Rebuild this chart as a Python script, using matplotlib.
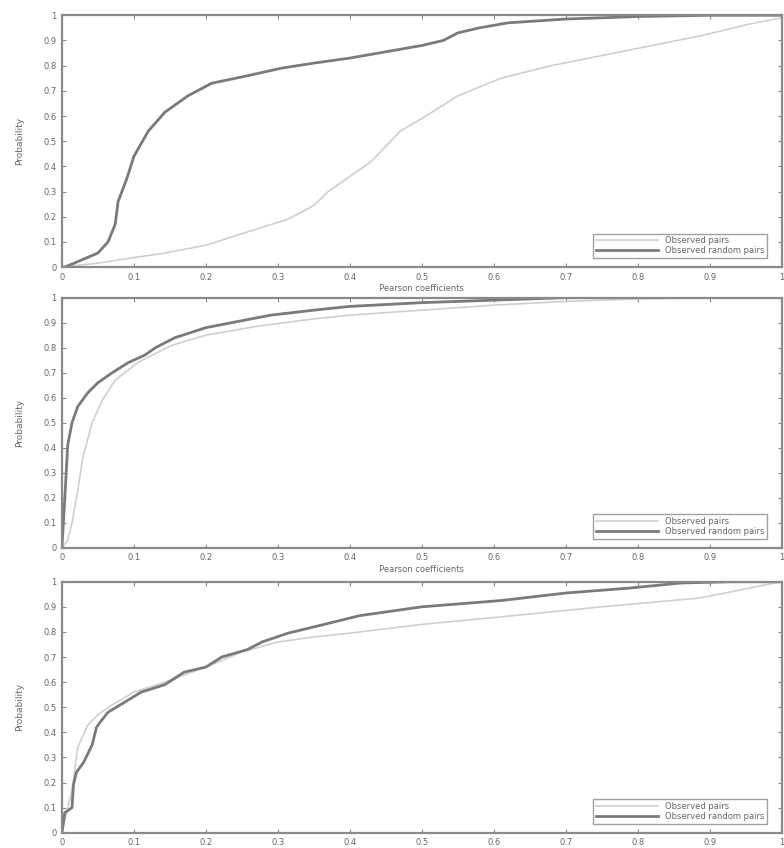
import matplotlib
matplotlib.use("Agg")
import matplotlib.pyplot as plt

# ── values (x, F(x)) ────────────────────────────────────────────────────────
top_dark_x = [0, 0.004, 0.05, 0.064, 0.074, 0.078, 0.09, 0.10, 0.12, 0.143, 0.175, 0.208,
              0.258, 0.305, 0.35, 0.40, 0.45, 0.50, 0.53, 0.55, 0.58, 0.62, 0.70, 0.80, 0.90, 1.0]
top_dark_y = [0, 0, 0.056, 0.10, 0.17, 0.26, 0.35, 0.44, 0.54, 0.615, 0.68, 0.73,
              0.76, 0.79, 0.81, 0.83, 0.855, 0.88, 0.90, 0.93, 0.95, 0.97, 0.985, 0.995, 1.0, 1.0]
top_light_x = [0, 0.05, 0.143, 0.20, 0.258, 0.314, 0.35, 0.37, 0.43, 0.47, 0.50, 0.55,
               0.61, 0.68, 0.75, 0.82, 0.89, 0.955, 1.0]
top_light_y = [0, 0.016, 0.056, 0.087, 0.14, 0.19, 0.245, 0.30, 0.42, 0.54, 0.59, 0.68,
               0.75, 0.80, 0.84, 0.88, 0.92, 0.965, 0.99]

mid_dark_x = [0, 0.004, 0.008, 0.014, 0.022, 0.036, 0.05, 0.07, 0.092, 0.115, 0.13, 0.157,
              0.20, 0.245, 0.29, 0.35, 0.40, 0.50, 0.60, 0.70, 1.0]
mid_dark_y = [0, 0.2, 0.41, 0.50, 0.565, 0.62, 0.66, 0.70, 0.74, 0.77, 0.80, 0.84,
              0.88, 0.905, 0.93, 0.95, 0.965, 0.98, 0.99, 1.0, 1.0]
mid_light_x = [0, 0.008, 0.014, 0.022, 0.029, 0.042, 0.056, 0.074, 0.105, 0.153, 0.20, 0.27,
               0.35, 0.40, 0.50, 0.60, 0.70, 0.80, 0.90, 1.0]
mid_light_y = [0, 0.03, 0.10, 0.23, 0.36, 0.50, 0.59, 0.67, 0.74, 0.81, 0.85, 0.885,
               0.915, 0.93, 0.95, 0.97, 0.985, 0.995, 1.0, 1.0]

bot_dark_x = [0, 0.002, 0.004, 0.014, 0.016, 0.02, 0.03, 0.042, 0.048, 0.053, 0.064, 0.087,
              0.11, 0.143, 0.17, 0.20, 0.222, 0.258, 0.278, 0.314, 0.35, 0.414, 0.50, 0.61,
              0.70, 0.79, 0.86, 0.93, 1.0]
bot_dark_y = [0, 0.04, 0.08, 0.10, 0.19, 0.24, 0.28, 0.35, 0.42, 0.44, 0.48, 0.52,
              0.56, 0.59, 0.64, 0.66, 0.70, 0.73, 0.76, 0.795, 0.82, 0.865, 0.90, 0.925,
              0.955, 0.975, 0.995, 1.0, 1.0]
bot_light_x = [0, 0.005, 0.014, 0.022, 0.036, 0.05, 0.07, 0.10, 0.143, 0.20, 0.25, 0.30,
               0.35, 0.40, 0.50, 0.61, 0.75, 0.886, 0.93, 0.99, 1.0]
bot_light_y = [0, 0.06, 0.17, 0.34, 0.43, 0.47, 0.51, 0.56, 0.60, 0.66, 0.72, 0.76,
               0.78, 0.795, 0.83, 0.86, 0.90, 0.935, 0.96, 0.995, 1.0]

ticks = [0, 0.1, 0.2, 0.3, 0.4, 0.5, 0.6, 0.7, 0.8, 0.9, 1]
tick_lbl = ["0", "0.1", "0.2", "0.3", "0.4", "0.5", "0.6", "0.7", "0.8", "0.9", "1"]
legend_lbl = ["Observed pairs", "Observed random pairs"]

panels = [
    (top_light_x, top_light_y, top_dark_x, top_dark_y),
    (mid_light_x, mid_light_y, mid_dark_x, mid_dark_y),
    (bot_light_x, bot_light_y, bot_dark_x, bot_dark_y),
]
boxes = [
    [0.079, 0.685, 0.918, 0.297],
    [0.079, 0.354, 0.918, 0.295],
    [0.079, 0.018, 0.918, 0.296],
]

fig = plt.figure(figsize=(7.84, 8.48), dpi=100)
grey = "#8a8a8a"
txt = "#666666"

for (lx, ly, dx, dy), box in zip(panels, boxes):
    ax = fig.add_axes(box)
    ax.plot(lx, ly, color="#cfcfcf", linewidth=1.2, label=legend_lbl[0])
    ax.plot(dx, dy, color="#7a7a7a", linewidth=2.0, label=legend_lbl[1])
    ax.set_xlim(0, 1)
    ax.set_ylim(0, 1)
    ax.set_xticks(ticks)
    ax.set_xticklabels(tick_lbl)
    ax.set_yticks(ticks)
    ax.set_yticklabels(tick_lbl)
    ax.tick_params(direction="in", top=True, right=True, length=3, width=0.8,
                   colors=grey, labelcolor=txt, labelsize=6, pad=4)
    for s in ax.spines.values():
        s.set_color(grey)
        s.set_linewidth(1.6)
    ax.set_xlabel("Pearson coefficients", fontsize=6, color=txt, labelpad=2)
    ax.set_ylabel("Probability", fontsize=6.5, color=txt, labelpad=14)
    leg = ax.legend(loc="lower right", fontsize=6, frameon=True, fancybox=False,
                    handlelength=7.5, borderpad=0.3, labelspacing=0.15,
                    bbox_to_anchor=(0.985, 0.02))
    leg.get_frame().set_edgecolor(grey)
    leg.get_frame().set_linewidth(1.0)
    for t in leg.get_texts():
        t.set_color(txt)

fig.savefig("out.png", dpi=100)
